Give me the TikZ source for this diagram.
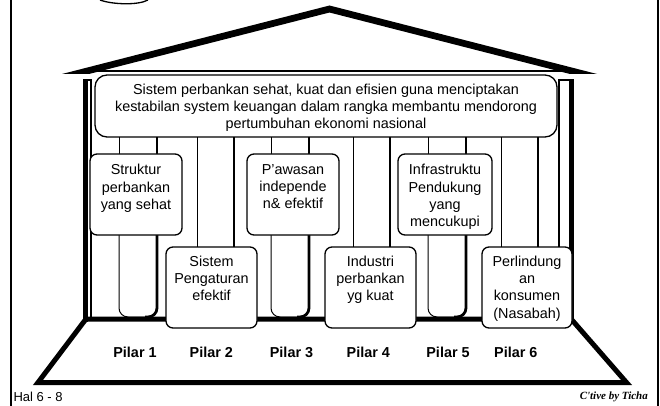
\documentclass[tikz,border=0pt]{standalone}
\usepackage{fontspec}
\setmainfont{Liberation Sans}
\newfontfamily\sigfont{Liberation Serif}
\begin{document}
\begin{tikzpicture}[x=1pt,y=-1pt,
  box/.style={draw,line width=1.3pt,fill=white,rounded corners=7pt,inner sep=0pt},
  txt/.style={align=center,inner sep=0pt,anchor=north,font=\fontsize{14.4}{17.3}\selectfont},
  pilarlbl/.style={font=\fontsize{14.4}{17}\selectfont\bfseries,anchor=base,inner sep=0pt},
  thinp/.style={line width=1pt},
  thickp/.style={line width=2.8pt},
  wall/.style={line width=5pt},
  frame/.style={line width=2pt}
]
\useasboundingbox (0,0) rectangle (660,406);
% page frame
\draw[frame] (11,0) -- (11,406);
\draw[frame] (658,0) -- (658,406);
% cut-off title stroke
\draw[line width=1.3pt] (100,0) .. controls (112,4.5) and (138,5.5) .. (148,0);
% roof
\fill (62,74) -- (329.5,5.5) -- (597,74) -- (570,74) -- (329.5,12.5) -- (89,74) -- cycle;
\draw[line width=2pt] (96,71) -- (563,71);
% walls
\draw[wall] (85.8,79.5) -- (85.8,321.7);
\draw[line width=1.3pt] (83.3,80) -- (91,80) -- (91,319);
\draw[wall] (571.3,79.5) -- (571.3,321.7);
\draw[line width=1.3pt] (573.8,80) -- (559,80) -- (559,319);
% floor
\draw[wall,line join=miter] (85.8,319.2) -- (38,382.5) -- (626.5,382.5) -- (571.3,319.2) -- cycle;
% pillars with upper boxes (U-shaped bottoms)
\foreach \xl/\xr in {119/157, 271/309, 428/466}{
  \draw[thinp] (\xl,130) -- (\xl,160);
  \draw[thickp] (\xr,130) -- (\xr,160);
  \draw[thinp,rounded corners=9pt] (\xl,230) -- (\xl,317) -- (\xr,317) -- (\xr,230);
  \draw[thickp,rounded corners=9pt] (\xr,230) -- (\xr,317) -- (\xr-12,317);
}
% pillars with lower boxes
\foreach \xl/\xr in {197/234, 353/390, 501/538}{
  \draw[thinp] (\xl,130) -- (\xl,252);
  \draw[thickp] (\xr,130) -- (\xr,252);
}
% main box
\node[box,rounded corners=12pt,minimum width=462pt,minimum height=62pt] (m) at (326,106) {};
\node[txt] (tm) at ([yshift=-9.3pt]m.north) {Sistem perbankan sehat, kuat dan efisien guna menciptakan\\kestabilan system keuangan dalam rangka membantu mendorong\\pertumbuhan ekonomi nasional};
% upper boxes
\node[box,minimum width=92pt,minimum height=81pt] (b1) at (136,194.5) {};
\node[box,minimum width=92pt,minimum height=81pt] (b3) at (293,194.5) {};
\node[box,minimum width=94pt,minimum height=81pt] (b5) at (445,194.5) {};
\node[txt] (t1) at ([yshift=-10.8pt]b1.north) {Struktur\\perbankan\\yang sehat};
\node[txt] (t3) at ([yshift=-10.8pt]b3.north) {P'awasan\\independe\\n\& efektif};
\node[txt] (t5) at ([yshift=-10.8pt]b5.north) {Infrastruktu\\Pendukung\\yang\\mencukupi};
% lower boxes
\node[box,minimum width=91pt,minimum height=81pt] (b2) at (211.5,287.5) {};
\node[box,minimum width=91pt,minimum height=81pt] (b4) at (370.5,287.5) {};
\node[box,minimum width=90pt,minimum height=81pt] (b6) at (527,287.5) {};
\node[txt] (t2) at ([yshift=-9.3pt]b2.north) {Sistem\\Pengaturan\\efektif};
\node[txt] (t4) at ([yshift=-9.3pt]b4.north) {Industri\\perbankan\\yg kuat};
\node[txt] (t6) at ([yshift=-9.3pt]b6.north) {Perlindung\\an\\konsumen\\(Nasabah)};
% pillar labels
\node[pilarlbl] (p1) at (135,357) {Pilar 1};
\node[pilarlbl] (p2) at (211.3,357) {Pilar 2};
\node[pilarlbl] (p3) at (291.5,357) {Pilar 3};
\node[pilarlbl] (p4) at (368.3,357) {Pilar 4};
\node[pilarlbl] (p5) at (448,357) {Pilar 5};
\node[pilarlbl] (p6) at (515.8,357) {Pilar 6};
% footer
\node[anchor=base west,inner sep=0pt,font=\fontsize{13}{15}\selectfont] (hal) at (13.3,401.7) {Hal 6 - 8};
\node[anchor=base east,inner sep=0pt,font=\fontsize{11}{13}\sigfont\itshape\bfseries] (sig) at (648,399) {C'tive by Ticha};
\end{tikzpicture}
\end{document}
